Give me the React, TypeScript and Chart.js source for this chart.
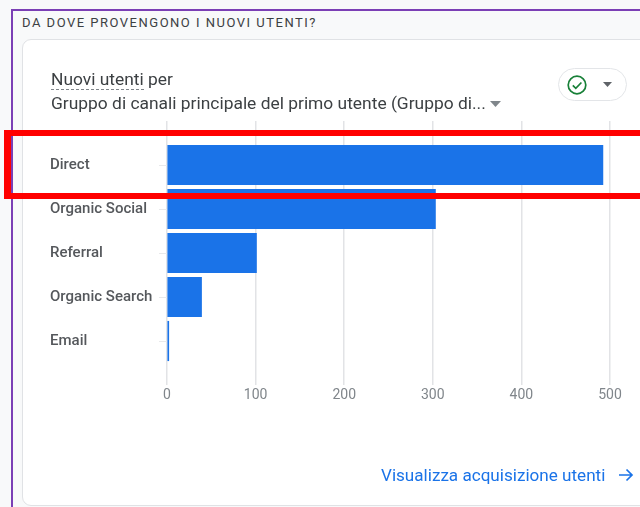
import React, { useEffect, useRef } from "react";
import { Chart, registerables } from "chart.js";

Chart.register(...registerables);

const categories = ["", "Direct", "Organic Social", "Referral", "Organic Search", "Email", ""];
const values = [null, 492, 303, 101, 39, 2, null];
const xTicks = [0, 100, 200, 300, 400, 500];

const abs = (s: React.CSSProperties): React.CSSProperties => ({ position: "absolute", whiteSpace: "nowrap", ...s });
const FONT = "Roboto, sans-serif";

export default function App() {
  const ref = useRef<HTMLCanvasElement>(null);
  useEffect(() => {
    document.body.style.margin = "0";
    const chart = new Chart(ref.current!, {
      type: "bar",
      data: {
        labels: categories,
        datasets: [{ data: values as any, backgroundColor: "#1a73e8", barThickness: 39.5 }],
      },
      options: {
        indexAxis: "y",
        animation: false,
        responsive: false,
        layout: { padding: { left: 50, right: 30, top: 121, bottom: 0 } },
        plugins: { legend: { display: false }, tooltip: { enabled: false } },
        scales: {
          x: {
            min: 0,
            max: 500,
            afterBuildTicks: (s: any) => { s.ticks = xTicks.map((value) => ({ value })); },
            afterFit: (s: any) => { s.height = 122; },
            border: { display: false },
            grid: { color: "#e2e3e6", lineWidth: 1.5, drawTicks: false },
            ticks: { padding: 2, maxRotation: 0, color: "#80868b", font: { family: FONT, size: 14 } },
          },
          y: {
            offset: false,
            afterFit: (s: any) => { s.width = 117; },
            border: { display: false },
            grid: {
              offset: false,
              drawOnChartArea: false,
              tickLength: 8,
              tickColor: (c: any) => (categories[c.index] ? "#e8e9eb" : "transparent"),
            },
            ticks: {
              autoSkip: false,
              crossAlign: "far",
              padding: 0,
              color: "#55585c",
              font: { family: FONT, size: 15, weight: 500 },
            },
          },
        },
      },
    } as any);
    return () => chart.destroy();
  }, []);

  return (
    <div style={{ position: "relative", width: 640, height: 507, overflow: "hidden", background: "#f8f9fa", fontFamily: FONT }}>
      <div style={abs({ left: 11, top: 9, width: 640, height: 520, borderLeft: "2px solid #7b3fb5", borderTop: "2px solid #7b3fb5" })} />
      <div style={abs({ left: 22, top: 39, width: 640, height: 465, background: "#fff", border: "1px solid #e0e2e5", borderRadius: 9 })} />
      <div style={abs({ left: 22, top: 15, fontSize: 13, fontWeight: 400, letterSpacing: 1.5, color: "#3c4043", lineHeight: "16px" })}>
        DA DOVE PROVENGONO I NUOVI UTENTI?
      </div>
      <canvas ref={ref} width={640} height={507} style={{ position: "absolute", left: 0, top: 0 }} />
      <div style={abs({ left: 51, top: 69, fontSize: 17.4, color: "#3c4043", lineHeight: "20px" })}>
        <span style={{ borderBottom: "1px dashed #80868b" }}>Nuovi utenti</span> per
      </div>
      <div style={abs({ left: 51, top: 93, fontSize: 17.4, color: "#3c4043", lineHeight: "20px" })}>
        Gruppo di canali principale del primo utente (Gruppo di...
      </div>
      <svg style={abs({ left: 489, top: 100 })} width={14} height={8}><path d="M1 1h11l-5.5 6z" fill="#80868b" /></svg>
      <div style={abs({ left: 558, top: 68, width: 67, height: 31, border: "1px solid #e3e5e8", borderRadius: 17, background: "#fff" })} />
      <svg style={abs({ left: 566, top: 74 })} width={22} height={22} viewBox="0 0 22 22">
        <circle cx="11" cy="11" r="8.8" fill="none" stroke="#188038" strokeWidth="1.7" />
        <path d="M6.8 11.3l3 3 5.6-5.8" fill="none" stroke="#188038" strokeWidth="1.7" />
      </svg>
      <svg style={abs({ left: 602, top: 81 })} width={12} height={7}><path d="M1 1h9l-4.5 5z" fill="#5f6368" /></svg>
      <div style={abs({ left: 381, top: 465, fontSize: 17.1, color: "#1a73e8", lineHeight: "20px" })}>Visualizza acquisizione utenti</div>
      <svg style={abs({ left: 618, top: 467 })} width={16} height={16} viewBox="0 0 16 16">
        <path d="M1 8h13M8.5 2.5L14 8l-5.5 5.5" fill="none" stroke="#1a73e8" strokeWidth="1.7" />
      </svg>
      <div style={abs({ left: 4, top: 130, width: 660, height: 57, border: "6px solid #ff0000", borderLeftWidth: 7 })} />
    </div>
  );
}
